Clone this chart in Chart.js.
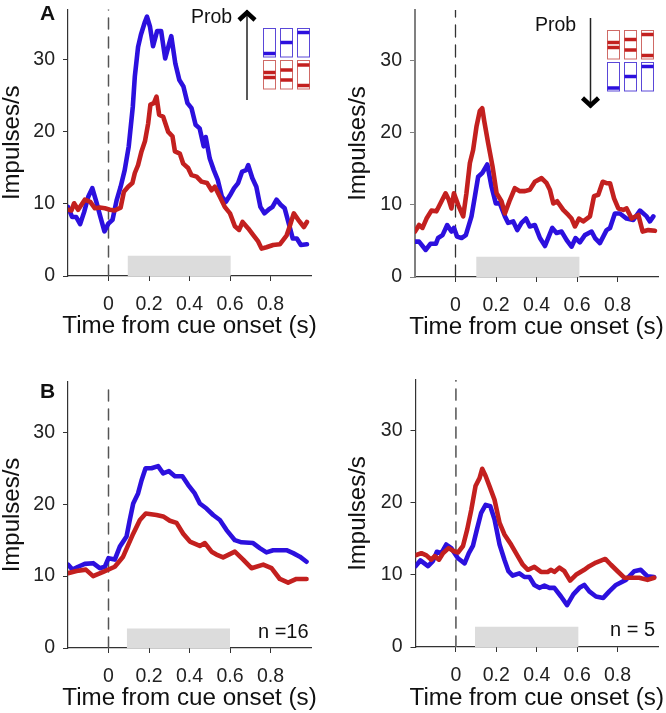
<!DOCTYPE html>
<html>
<head>
<meta charset="utf-8">
<title>Impulses</title>
<script src="https://cdn.jsdelivr.net/npm/chart.js@4/dist/chart.umd.js"></script>
<style>
    html, body { margin: 0; padding: 0; background: #fff; }
    #page { position: relative; width: 666px; height: 713px; overflow: hidden; }
    canvas { position: absolute; }
</style>
</head>
<body>
<div id="page">
    <canvas id="panelA"></canvas>
    <canvas id="panelB"></canvas>
    <canvas id="panelC"></canvas>
    <canvas id="panelD"></canvas>
</div>
<script>
const xTicks = [0, 0.2, 0.4, 0.6, 0.8];
const yTicks = [0, 10, 20, 30];
const xTitle = "Time from cue onset (s)";
const yTitle = "Impulses/s";

// top left
const aBlueT = [-.2,-.18,-.16,-.14,-.12,-.10,-.08,-.06,-.04,-.02,0,.02,.04,.06,.08,.10,.12,.13,.146,.16,.18,.19,.205,.22,.24,.26,.28,.30,.31,.33,.35,.37,.39,.41,.43,.45,.47,.48,.50,.52,.54,.56,.58,.60,.62,.64,.66,.68,.69,.71,.73,.75,.77,.79,.81,.83,.85,.87,.89,.91,.93,.95,.98];
const aBlueV = [9.6,8.2,8.2,7.2,8.9,11,12.2,10.3,8.2,6.2,7.3,7.8,10.5,12.4,14.7,18,23.5,27.7,31.8,33.5,35.3,36,34.6,31.9,34,34,30.2,32.3,33.3,29.5,27.2,26.3,24,23.3,21,20.5,18,19.3,16.3,14.7,13.3,11,10.3,11.2,12.2,12.9,14.5,14.7,15.4,13.6,12.4,9.6,8.7,9.2,9.6,10.6,9.9,9.4,7.3,5.2,5.2,4.3,4.4];
const aRedT = [-.2,-.183,-.17,-.15,-.117,-.09,-.067,-.043,-.018,.007,.03,.06,.076,.097,.118,.13,.146,.163,.18,.196,.207,.224,.237,.25,.27,.295,.316,.328,.352,.369,.393,.41,.435,.459,.487,.509,.525,.55,.574,.6,.624,.645,.662,.69,.714,.739,.756,.78,.813,.846,.879,.895,.915,.937,.965,.98];
const aRedV = [9.2,9.1,10.1,9.2,10.6,10.3,9.4,9.5,9.4,9.2,9.1,9.5,11.7,12.4,12.9,14.3,15.4,17.3,18.7,21.2,23.8,24,24.9,22.4,22.1,20,19.4,17.3,17,15.6,15,14,13.8,13.1,12.9,11.9,12.4,11,9.6,8.7,6.9,6.4,7.5,6.6,5.7,4.8,3.8,4,4.3,4.4,5.6,6.9,8.7,7.8,6.8,7.5];
const aBandT = [0.094, 0.604];
const aBandV = [2.8, 2.8];

// top right
const bBlueT = [-.2,-.18,-.147,-.124,-.097,-.086,-.064,-.041,-.02,-.008,.008,.03,.051,.079,.096,.112,.132,.157,.178,.199,.219,.244,.26,.285,.305,.326,.348,.367,.392,.417,.442,.478,.499,.524,.549,.573,.593,.614,.639,.672,.689,.713,.746,.763,.787,.812,.845,.878,.911,.944,.96,.977];
const bBlueV = [4.9,4.9,3.75,4.6,4.6,5.4,5.8,7.2,6.3,6.8,5.6,5.4,5.8,8.4,11.2,13.9,14.4,15.6,12.5,10.2,10.2,8.4,7.5,7.7,6.5,7.5,8.1,7,7.2,5.4,4.3,6.8,6.1,6.3,5.1,4.2,5.4,4.8,5.8,6.3,5.4,4.7,6.5,6.8,8.8,8.8,8.1,7.9,9.2,8.4,7.7,8.4];
const bRedT = [-.2,-.18,-.163,-.143,-.119,-.094,-.069,-.049,-.033,-.02,-.008,.013,.038,.054,.071,.087,.104,.12,.132,.142,.161,.183,.203,.227,.244,.269,.293,.318,.343,.367,.392,.425,.45,.466,.483,.502,.532,.557,.573,.59,.61,.631,.664,.684,.705,.727,.746,.763,.783,.804,.829,.845,.87,.903,.924,.952,.985];
const bRedV = [6.3,7.2,6.8,8.1,9.2,9.1,10.5,11.6,10.7,9.5,11.6,10,8.4,11.6,15.8,17.6,20.9,23,23.4,21.6,18.6,15.3,11.6,10.5,8.8,10.7,12.3,11.9,11.9,12.1,13.2,13.7,13,12.1,10.2,10.5,9.3,8.6,8.1,7,8.1,7.7,8.4,11.2,11.4,13.2,13,13,10.9,9.5,9.3,9.5,8.1,8.6,6.3,6.5,6.4];
const bBandT = [0.102, 0.613];
const bBandV = [2.8, 2.8];

// bottom left
const cBlueT = [-.2,-.178,-.15,-.117,-.076,-.043,-.018,0,.031,.056,.089,.105,.122,.146,.163,.183,.212,.245,.27,.298,.328,.365,.393,.426,.451,.484,.517,.55,.583,.624,.657,.714,.747,.78,.813,.879,.912,.945,.978];
const cBlueV = [11.6,10.9,11.3,11.7,11.8,11.1,11.3,12.5,12.3,14.1,15.5,17.8,20.1,21.5,23.3,25,25,25.3,24.3,24.6,23.9,23.9,22.7,21.5,20.1,19.4,18.5,17.8,16.4,15,14.7,14.6,13.9,13.3,13.6,13.6,13.2,12.7,12];
const cRedT = [-.2,-.158,-.112,-.076,-.026,.031,.072,.097,.122,.155,.184,.237,.27,.303,.336,.369,.402,.451,.476,.509,.533,.566,.624,.665,.706,.764,.805,.846,.887,.928,.978];
const cRedV = [10.4,10.7,10.9,10,10.6,11.3,12.7,14.3,15.9,17.8,18.7,18.5,18.3,17.7,17.4,15.9,14.8,14.2,14.6,13.4,13,12.6,13.4,12.3,11.1,11.6,11.1,9.6,9.1,9.6,9.6];
const cBandT = [0.09, 0.6];
const cBandV = [2.7, 2.7];

// bottom right
const dBlueT = [-.2,-.176,-.138,-.114,-.094,-.072,-.048,-.023,.01,.043,.064,.084,.104,.125,.147,.17,.191,.216,.24,.26,.281,.314,.339,.364,.388,.413,.438,.463,.487,.52,.55,.581,.611,.635,.66,.693,.729,.759,.792,.841,.882,.915,.948,.981];
const dBlueV = [11.2,12,11.2,11.9,13.2,13,14.2,13.7,12.3,11.6,13,14,16.3,18.6,19.7,19.5,17.7,14.2,12.1,10.5,9.9,10.2,9.7,9.7,8.6,8.2,8.5,8.2,8.2,7,5.8,7.3,8.2,8.6,7.7,7,6.8,7.7,8.6,9.3,10.5,10.7,9.8,9.7];
const dRedT = [-.2,-.171,-.146,-.122,-.105,-.084,-.064,-.036,-.012,.01,.035,.056,.076,.097,.117,.13,.147,.166,.191,.216,.24,.273,.306,.331,.356,.388,.421,.454,.471,.487,.512,.537,.565,.594,.635,.66,.693,.739,.767,.8,.833,.874,.907,.948,.981];
const dRedV = [12.7,13,12.7,12.1,12.6,12.1,13,13.7,13.3,13.1,14,16.3,19,22.3,23.4,24.7,23.7,22.3,20.4,17.2,15.6,14.2,12.6,11.4,10.7,11.1,10.4,10.4,10.7,10.4,11,10.5,9.2,10,10.7,11.2,11.7,12.2,11.4,10.5,9.6,9.6,9.6,9.3,9.6];
const dBandT = [0.094, 0.607];
const dBandV = [2.8, 2.8];

const cueT = [0, 0];
const cueV = [0, 37];

const BLUE = "#2c10de";
const RED = "#c3201f";
const FONT = "'Liberation Sans', Arial, sans-serif";

function pts(ts, vs) {
    return ts.map((t, i) => ({ x: t, y: vs[i] }));
}

// the little "Prob" arrow and trial boxes, plus panel letters and n labels
const extras = {
    id: "extras",
    afterDraw(chart, args, opts) {
        const ctx = chart.ctx;
        ctx.save();
        ctx.lineCap = "butt";
        (opts.boxes || []).forEach(b => {
            ctx.strokeStyle = b.line;
            ctx.lineWidth = 1;
            ctx.strokeRect(b.x, b.y, 12, 28.5);
            ctx.strokeStyle = b.bar;
            ctx.lineWidth = 3.5;
            b.marks.forEach(m => {
                ctx.beginPath();
                ctx.moveTo(b.x, m);
                ctx.lineTo(b.x + 12, m);
                ctx.stroke();
            });
        });
        if (opts.arrow) {
            const a = opts.arrow;
            const dir = a.tip > a.tail ? -1 : 1;
            ctx.strokeStyle = "#222";
            ctx.lineWidth = 1.5;
            ctx.beginPath();
            ctx.moveTo(a.x, a.tail);
            ctx.lineTo(a.x, a.tip);
            ctx.stroke();
            ctx.strokeStyle = "#000";
            ctx.lineWidth = 4.5;
            ctx.beginPath();
            ctx.moveTo(a.x - 8, a.tip + dir * 10);
            ctx.lineTo(a.x, a.tip + dir * 2.5);
            ctx.lineTo(a.x + 8, a.tip + dir * 10);
            ctx.stroke();
        }
        ctx.fillStyle = "#111";
        (opts.labels || []).forEach(l => {
            ctx.font = l.font;
            ctx.fillText(l.text, l.x, l.y);
        });
        // x title is wider than the axis, the scale's own title would squeeze it
        ctx.font = "24.2px " + FONT;
        ctx.textAlign = "center";
        ctx.fillText(xTitle, (chart.chartArea.left + chart.chartArea.right) / 2, opts.titleY);
        ctx.restore();
    }
};

function makePanel(id, p) {
    const canvas = document.getElementById(id);
    canvas.width = p.w;
    canvas.height = p.h;
    canvas.style.left = p.left + "px";
    canvas.style.top = p.top + "px";
    canvas.style.width = p.w + "px";
    canvas.style.height = p.h + "px";

    new Chart(canvas, {
        type: "line",
        plugins: [extras],
        data: {
            datasets: [
                { data: pts(p.redT, p.redV), borderColor: RED, borderWidth: 4.6 },
                { data: pts(p.blueT, p.blueV), borderColor: BLUE, borderWidth: 4.6 },
                { data: pts(cueT, cueV), borderColor: p.dashColor, borderWidth: p.dashWidth, borderDash: p.dash },
                { data: pts(p.bandT, p.bandV), borderWidth: 0, borderColor: "rgba(0,0,0,0)", fill: "origin", backgroundColor: "#dcdcdc" }
            ]
        },
        options: {
            responsive: false,
            animation: false,
            layout: { autoPadding: false, padding: { left: 0, top: p.areaTop, right: p.w - p.areaRight, bottom: 0 } },
            elements: { point: { radius: 0 }, line: { tension: 0, borderJoinStyle: "round", borderCapStyle: "round" } },
            plugins: {
                legend: { display: false },
                tooltip: { enabled: false },
                extras: p.extras
            },
            scales: {
                x: {
                    type: "linear",
                    min: -0.2,
                    max: 1.0,
                    afterBuildTicks: s => { s.ticks = xTicks.map(v => ({ value: v })); },
                    afterFit: s => {
                        s.height = p.h - p.areaBottom;
                        s.paddingLeft = 0;
                        s.paddingRight = 0;
                    },
                    border: { color: "#333", width: 1.2 },
                    grid: { drawOnChartArea: false, tickLength: 5, color: "#333", tickWidth: 1 },
                    ticks: {
                        maxRotation: 0,
                        autoSkip: false,
                        padding: 12,
                        color: "#222",
                        font: { family: FONT, size: 19.5 },
                        callback: v => String(v)
                    }
                },
                y: {
                    min: 0,
                    max: 37,
                    afterBuildTicks: s => { s.ticks = yTicks.map(v => ({ value: v })); },
                    afterFit: s => {
                        s.width = p.areaLeft;
                        s.paddingTop = 0;
                        s.paddingBottom = 0;
                    },
                    border: { color: p.axisColor, width: p.axisWidth },
                    grid: { drawOnChartArea: false, tickLength: 5, color: p.axisColor, tickWidth: 1 },
                    ticks: {
                        padding: 8,
                        color: "#222",
                        font: { family: FONT, size: 19.5 },
                        callback: v => String(v)
                    },
                    title: { display: true, text: yTitle, color: "#111", padding: { top: -2, bottom: 2 }, font: { family: FONT, size: 24 } }
                }
            }
        }
    });
}

const boldLabel = "bold 21px " + FONT;
const smallLabel = "19.5px " + FONT;
const nLabel = "20px " + FONT;

makePanel("panelA", {
    left: 0, top: 0, w: 333, h: 342,
    areaLeft: 68, areaRight: 311, areaTop: 9.5, areaBottom: 276,
    blueT: aBlueT, blueV: aBlueV, redT: aRedT, redV: aRedV, bandT: aBandT, bandV: aBandV,
    axisColor: "#333", axisWidth: 1.2, dashColor: "#555", dashWidth: 1.5, dash: [11, 8],
    extras: {
        titleY: 333,
        arrow: { x: 247, tail: 100, tip: 10 },
        labels: [
            { text: "A", x: 40, y: 20, font: boldLabel },
            { text: "Prob", x: 191, y: 23, font: smallLabel }
        ],
        boxes: [
            { x: 263.5, y: 28.5, line: "#5a48d8", bar: BLUE, marks: [53.5] },
            { x: 280.5, y: 28.5, line: "#5a48d8", bar: BLUE, marks: [42.5] },
            { x: 297.5, y: 28.5, line: "#5a48d8", bar: BLUE, marks: [32.5] },
            { x: 263.5, y: 60.5, line: "#cf6a66", bar: RED, marks: [72.5, 77.5] },
            { x: 280.5, y: 60.5, line: "#cf6a66", bar: RED, marks: [70, 80] },
            { x: 297.5, y: 60.5, line: "#cf6a66", bar: RED, marks: [65, 85.5] }
        ]
    }
});

makePanel("panelB", {
    left: 346, top: 0, w: 320, h: 342,
    areaLeft: 69, areaRight: 312, areaTop: 10, areaBottom: 277,
    blueT: bBlueT, blueV: bBlueV, redT: bRedT, redV: bRedV, bandT: bBandT, bandV: bBandV,
    axisColor: "#808080", axisWidth: 2, dashColor: "#333", dashWidth: 1.3, dash: [12, 8],
    extras: {
        titleY: 334,
        arrow: { x: 244.5, tail: 18, tip: 108 },
        labels: [{ text: "Prob", x: 189, y: 31, font: smallLabel }],
        boxes: [
            { x: 261.5, y: 30.5, line: "#cf6a66", bar: RED, marks: [42.5, 47.5] },
            { x: 278.5, y: 30.5, line: "#cf6a66", bar: RED, marks: [39.5, 50] },
            { x: 295.5, y: 30.5, line: "#cf6a66", bar: RED, marks: [34.5, 55.5] },
            { x: 261.5, y: 62.5, line: "#5a48d8", bar: BLUE, marks: [88] },
            { x: 278.5, y: 62.5, line: "#5a48d8", bar: BLUE, marks: [76.5] },
            { x: 295.5, y: 62.5, line: "#5a48d8", bar: BLUE, marks: [66.5] }
        ]
    }
});

makePanel("panelC", {
    left: 0, top: 360, w: 333, h: 353,
    areaLeft: 68, areaRight: 311, areaTop: 22, areaBottom: 288,
    blueT: cBlueT, blueV: cBlueV, redT: cRedT, redV: cRedV, bandT: cBandT, bandV: cBandV,
    axisColor: "#333", axisWidth: 1.2, dashColor: "#555", dashWidth: 1.5, dash: [11, 8],
    extras: {
        titleY: 345,
        labels: [
            { text: "B", x: 40, y: 38, font: boldLabel },
            { text: "n =16", x: 258, y: 278, font: nLabel }
        ]
    }
});

makePanel("panelD", {
    left: 346, top: 360, w: 320, h: 353,
    areaLeft: 69.5, areaRight: 312, areaTop: 20, areaBottom: 287,
    blueT: dBlueT, blueV: dBlueV, redT: dRedT, redV: dRedV, bandT: dBandT, bandV: dBandV,
    axisColor: "#333", axisWidth: 1.2, dashColor: "#666", dashWidth: 1.7, dash: [11, 8],
    extras: {
        titleY: 345,
        labels: [{ text: "n = 5", x: 264, y: 276, font: nLabel }]
    }
});
</script>
</body>
</html>
